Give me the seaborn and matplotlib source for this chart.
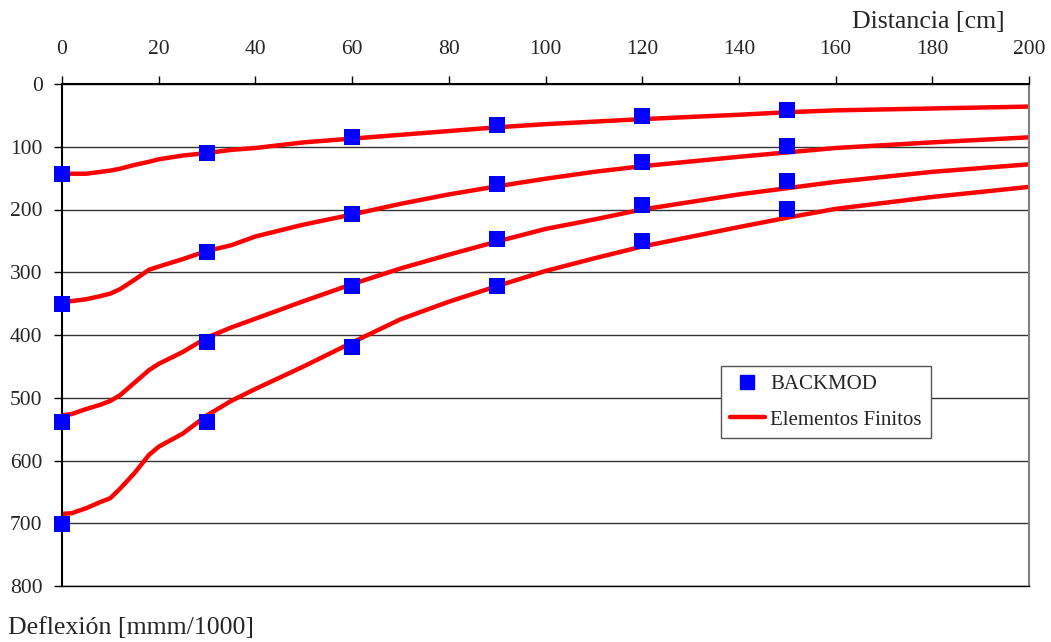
import numpy as np
import pandas as pd
import matplotlib
matplotlib.use("Agg")
import matplotlib.pyplot as plt
from matplotlib.lines import Line2D
import seaborn as sns

# BACKMOD measured points
bk_x = [0, 30, 60, 90, 120, 150]
bk_1 = [143, 110, 85, 65, 51, 41]
bk_2 = [351, 268, 207, 159, 124, 99]
bk_3 = [539, 411, 322, 247, 193, 155]
bk_4 = [701, 539, 419, 322, 250, 199]

# Finite element curves
fe_x = [0, 2, 5, 8, 10, 12, 15, 18, 20, 25, 30, 35, 40, 50, 60, 70, 80, 90, 100, 110, 120, 140, 150, 160, 180, 200]
fe_1 = [143, 143, 143, 140, 138, 135, 129, 124, 120, 114, 110, 105, 102, 93, 87, 81, 75, 69, 64, 60, 56, 49, 45, 42, 39, 36]
fe_2 = [347, 346, 343, 338, 334, 327, 312, 296, 291, 279, 266, 257, 243, 224, 208, 191, 176, 163, 151, 140, 131, 116, 109, 102, 93, 85]
fe_3 = [528, 526, 518, 511, 505, 496, 476, 456, 446, 427, 404, 388, 374, 346, 319, 294, 272, 251, 231, 216, 200, 176, 166, 156, 140, 128]
fe_4 = [685, 684, 676, 666, 660, 645, 620, 591, 578, 557, 528, 505, 486, 450, 412, 375, 347, 322, 298, 278, 259, 228, 213, 199, 180, 164]

x_ticks = [0, 20, 40, 60, 80, 100, 120, 140, 160, 180, 200]
y_ticks = [0, 100, 200, 300, 400, 500, 600, 700, 800]
x_label = "Distancia [cm]"
y_label = "Deflexión [mmm/1000]"
legend_labels = ["BACKMOD", "Elementos Finitos"]

bk_df = pd.concat([pd.DataFrame({"x": bk_x, "y": v, "s": i}) for i, v in enumerate([bk_1, bk_2, bk_3, bk_4])])
fe_df = pd.concat([pd.DataFrame({"x": fe_x, "y": v, "s": i}) for i, v in enumerate([fe_1, fe_2, fe_3, fe_4])])

sns.set_style("white")
plt.rcParams["font.family"] = ["Liberation Serif", "DejaVu Serif"]

fig = plt.figure(figsize=(10.51, 6.42), dpi=100)
ax = fig.add_axes([62/1051, 1 - 586/642, (1029 - 62)/1051, (586 - 84)/642])

for yv in y_ticks:
    ax.axhline(yv, color="#333333", lw=1.0, zorder=0)

sns.lineplot(data=fe_df, x="x", y="y", units="s", estimator=None, color="#ff0000",
             lw=3.2, ax=ax, legend=False, zorder=2)
sns.scatterplot(data=bk_df, x="x", y="y", color="#0000ff", marker="s", s=130,
                edgecolor="none", ax=ax, legend=False, zorder=3, clip_on=False)

ax.set_xlim(0, 200)
ax.set_ylim(800, 0)
ax.xaxis.tick_top()
ax.set_xticks(x_ticks)
ax.set_yticks(y_ticks)
ax.tick_params(axis="x", direction="out", length=6, width=1, color="black", labelsize=15.5, pad=12, top=True, bottom=False)
ax.tick_params(axis="y", direction="out", length=6, width=1, color="black", labelsize=15.5, pad=8, left=True)
ax.set_xlabel("")
ax.set_ylabel("")

for side in ["left", "top"]:
    ax.spines[side].set_color("black")
    ax.spines[side].set_linewidth(1.5)
ax.spines["right"].set_color("#808080")
ax.spines["right"].set_linewidth(1.5)
ax.spines["bottom"].set_color("black")
ax.spines["bottom"].set_linewidth(1.0)

fig.text(1005/1051, 1 - 22/642, x_label, ha="right", va="center", fontsize=18.6)
fig.text(8/1051, 1 - 628/642, y_label, ha="left", va="center", fontsize=18.6)

handles = [
    Line2D([], [], color="#0000ff", marker="s", ls="none", markersize=10),
    Line2D([], [], color="#ff0000", lw=3.2),
]
leg = ax.legend(handles, legend_labels, loc="upper left",
                bbox_to_anchor=((721 - 62)/(1029 - 62), 1 - (366 - 84)/(586 - 84)),
                frameon=True, fancybox=False, fontsize=15, handlelength=1.7,
                borderpad=0.42, labelspacing=0.75, handletextpad=0.25, borderaxespad=0)
leg.get_frame().set_edgecolor("#555555")
leg.get_frame().set_linewidth(1.0)
leg.get_frame().set_facecolor("white")
leg.get_frame().set_alpha(1)

fig.savefig("out.png", dpi=100, facecolor="white")
